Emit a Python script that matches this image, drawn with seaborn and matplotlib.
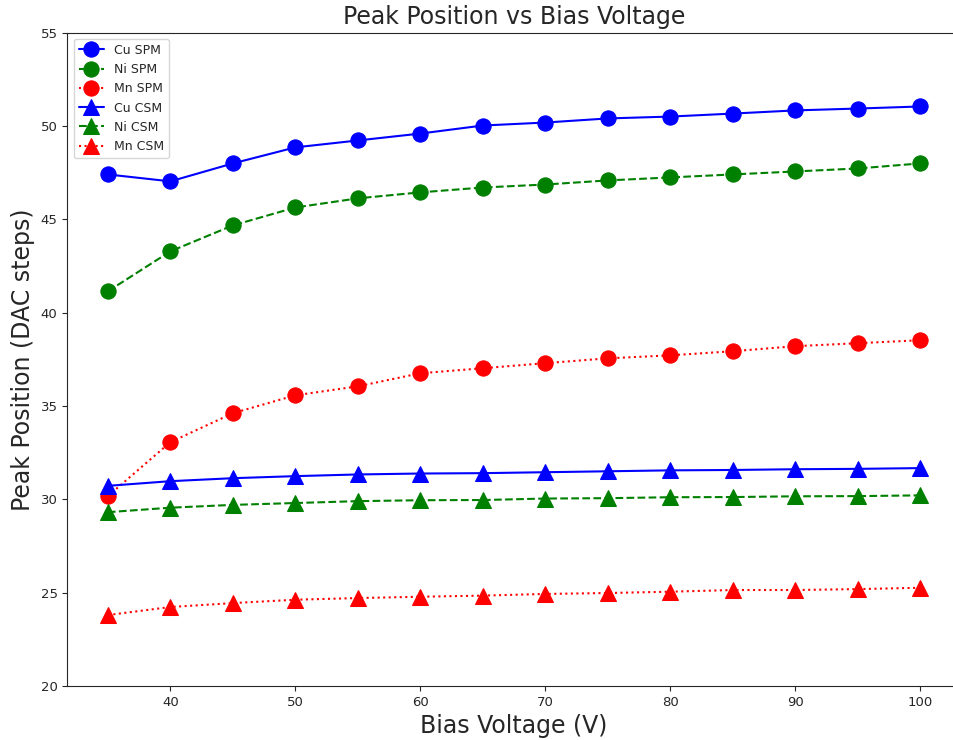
import matplotlib
matplotlib.use("Agg")
import matplotlib.pyplot as plt
import seaborn as sns
import numpy as np

bias = [35, 40, 45, 50, 55, 60, 65, 70, 75, 80, 85, 90, 95, 100]
cu_spm = [47.40, 47.03, 47.99, 48.85, 49.22, 49.59, 50.02, 50.18, 50.40, 50.50, 50.66, 50.83, 50.93, 51.04]
ni_spm = [41.14, 43.28, 44.67, 45.63, 46.12, 46.44, 46.70, 46.86, 47.08, 47.24, 47.40, 47.56, 47.72, 47.99]
mn_spm = [30.17, 33.06, 34.61, 35.57, 36.05, 36.75, 37.02, 37.29, 37.55, 37.71, 37.93, 38.20, 38.36, 38.52]
cu_csm = [30.72, 30.97, 31.13, 31.24, 31.33, 31.38, 31.40, 31.45, 31.50, 31.55, 31.57, 31.61, 31.63, 31.67]
ni_csm = [29.31, 29.55, 29.70, 29.80, 29.90, 29.95, 29.96, 30.04, 30.06, 30.11, 30.12, 30.16, 30.17, 30.21]
mn_csm = [23.80, 24.23, 24.44, 24.62, 24.71, 24.78, 24.84, 24.93, 24.98, 25.05, 25.14, 25.14, 25.19, 25.26]

series = [
    ("Cu SPM", cu_spm, "blue", "-", "o"),
    ("Ni SPM", ni_spm, "green", "--", "o"),
    ("Mn SPM", mn_spm, "red", ":", "o"),
    ("Cu CSM", cu_csm, "blue", "-", "^"),
    ("Ni CSM", ni_csm, "green", "--", "^"),
    ("Mn CSM", mn_csm, "red", ":", "^"),
]

sns.set_style("ticks")
plt.rcParams['font.family'] = ['DejaVu Sans']
fig, ax = plt.subplots(figsize=(9.54, 7.4), dpi=100)
fig.subplots_adjust(left=0.0705, right=1.007, top=0.956, bottom=0.073)

for name, vals, col, ls, mk in series:
    sns.lineplot(x=bias, y=vals, ax=ax, color=col, linestyle=ls, marker=mk,
                 markersize=11, markeredgecolor=col, linewidth=1.5, label=name)

ax.set_ylim(20, 55)
ax.set_xlim(31.75, 103.25)
ax.set_title("Peak Position vs Bias Voltage", fontsize=17)
ax.set_xlabel("Bias Voltage (V)", fontsize=17)
ax.set_ylabel("Peak Position (DAC steps)", fontsize=17)
ax.tick_params(labelsize=9.5)
for s in ax.spines.values():
    s.set_visible(True)
ax.legend(loc="upper left", fontsize=9, framealpha=0.8)
fig.savefig("out.png", dpi=100)
